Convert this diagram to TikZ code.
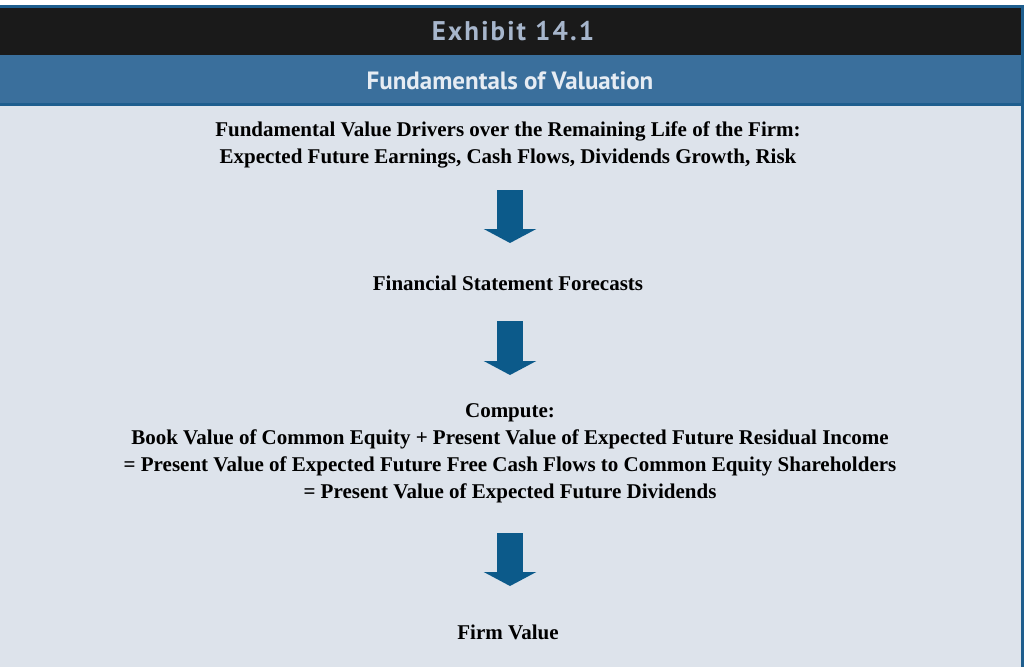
\documentclass[tikz,border=0pt]{standalone}
\usepackage{fontspec}
\setmainfont{Liberation Serif}
\newfontfamily\headfont{PT Sans}
\usetikzlibrary{positioning,arrows.meta}
\definecolor{Ink}{HTML}{1A1A1A}
\definecolor{BandBlue}{HTML}{3A6F9C}
\definecolor{EdgeBlue}{HTML}{1E5E8E}
\definecolor{Pale}{HTML}{DDE3EB}
\definecolor{ArrowBlue}{HTML}{0C5A8A}
\definecolor{TitleGray}{HTML}{A7B6CC}
\definecolor{SubWhite}{HTML}{E6ECF3}

\begin{document}
\begin{tikzpicture}[x=1pt,y=-1pt,every node/.style={font=\fontsize{21}{27}\selectfont\bfseries,align=center}]
  \useasboundingbox (0,0) rectangle (1024,667);
  % bands
  \fill[white] (0,0) rectangle (1024,667);
  \fill[Pale] (0,105) rectangle (1024,667);
  \fill[EdgeBlue] (0,5) rectangle (1024,8);
  \fill[Ink] (0,8) rectangle (1024,55);
  \fill[BandBlue] (0,55) rectangle (1024,104);
  \fill[EdgeBlue] (0,103) rectangle (1024,106);
  \fill[EdgeBlue] (1021,5) rectangle (1024,667);
  % headings
  \node[font=\headfont\fontsize{27}{30}\selectfont\bfseries\addfontfeatures{LetterSpace=8},text=TitleGray] (exhibit) at (513,31) {Exhibit 14.1};
  \node[font=\headfont\fontsize{25}{28}\selectfont\bfseries,text=SubWhite] (title) at (510,81) {Fundamentals of Valuation};
  % steps
  \node (drivers) at (508,144.5) {Fundamental Value Drivers over the Remaining Life of the Firm:\\Expected Future Earnings, Cash Flows, Dividends Growth, Risk};
  \node (forecasts) at (508,283) {Financial Statement Forecasts};
  \node (compute) at (510,453.5) {Compute:\\Book Value of Common Equity + Present Value of Expected Future Residual Income\\= Present Value of Expected Future Free Cash Flows to Common Equity Shareholders\\= Present Value of Expected Future Dividends};
  \node (firm) at (508,632) {Firm Value};
  % arrows
  \coordinate (a1) at (510,190);
  \coordinate (b1) at (510,243);
  \coordinate (a2) at (510,321);
  \coordinate (b2) at (510,375);
  \coordinate (a3) at (510,533);
  \coordinate (b3) at (510,586);
  \foreach \s/\e in {a1/b1,a2/b2,a3/b3}
    \draw[ArrowBlue,line width=26pt,-{Triangle[width=52pt,length=14pt]}] (\s) -- (\e);
\end{tikzpicture}
\end{document}
